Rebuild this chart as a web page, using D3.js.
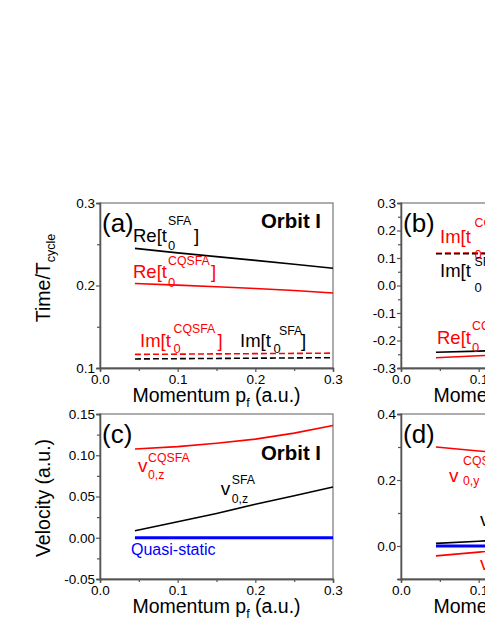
<!DOCTYPE html>
<html>
<head>
<meta charset="utf-8">
<script src="https://cdnjs.cloudflare.com/ajax/libs/d3/7.8.5/d3.min.js"></script>
<style>
body { margin: 0; background: #fff; }
svg { display: block; font-family: "Liberation Sans", Arial, sans-serif; }
</style>
</head>
<body>
<svg id="chart" width="485" height="627"></svg>
<script>
// final momentum grid (a.u.)
const pf = [0.045, 0.1, 0.15, 0.2, 0.25, 0.3];
const xTicks = [0.0, 0.1, 0.2, 0.3];
const xMinor = [0.05, 0.15, 0.25];

// (a) ionization times, orbit I
const reT0SFA_a = [0.245, 0.2395, 0.235, 0.2305, 0.2258, 0.221];
const reT0CQSFA_a = [0.2025, 0.2005, 0.1985, 0.1963, 0.194, 0.191];
const imT0CQSFA_a = [0.1165, 0.1168, 0.1171, 0.1174, 0.1177, 0.118];
const imT0SFA_a = [0.111, 0.1113, 0.1116, 0.1119, 0.1122, 0.1125];

// (b) ionization times, second panel (cropped)
const reT0SFA_b = [-0.243, -0.2385, -0.234, -0.23, -0.226, -0.222];
const reT0CQSFA_b = [-0.2625, -0.2555, -0.249, -0.243, -0.237, -0.231];
const imT0CQSFA_b = [0.1175, 0.1178, 0.1181, 0.1184, 0.1187, 0.119];
const imT0SFA_b = [0.1155, 0.1158, 0.1161, 0.1164, 0.1167, 0.117];

// (c) initial velocity v0,z, orbit I
const v0zCQSFA = [0.1076, 0.1105, 0.1145, 0.1195, 0.1268, 0.136];
const v0zSFA = [0.0085, 0.0195, 0.0295, 0.0405, 0.051, 0.0615];
const v0zQS = [0, 0, 0, 0, 0, 0];

// (d) initial velocity v0,y (cropped)
const v0yCQSFA = [0.3, 0.288, 0.277, 0.266, 0.255, 0.244];
const v0ySFA = [0.008, 0.0145, 0.02, 0.0255, 0.031, 0.0365];
const v0yQS = [0, 0, 0, 0, 0, 0];
const v0yCQSFA2 = [-0.03, -0.0185, -0.008, 0.002, 0.011, 0.02];

const RED = "#ff0000", BLACK = "#000", BLUE = "#0000ff";
const W = 233, H = 165;

const panels = [
  {tag: "(a)", left: 100, top: 203, yDomain: [0.1, 0.3],
   yTicks: [0.1, 0.2, 0.3], yMinor: [0.15, 0.25], digits: 1,
   series: [
     {v: imT0CQSFA_a, c: RED, dash: "6,3"},
     {v: imT0SFA_a, c: BLACK, dash: "6,3"},
     {v: reT0SFA_a, c: BLACK},
     {v: reT0CQSFA_a, c: RED}]},
  {tag: "(b)", left: 401, top: 203, yDomain: [-0.3, 0.3],
   yTicks: [-0.3, -0.2, -0.1, 0, 0.1, 0.2, 0.3], yMinor: [-0.25, -0.15, -0.05, 0.05, 0.15, 0.25], digits: 1,
   series: [
     {v: imT0CQSFA_b, c: RED, dash: "6,3"},
     {v: imT0SFA_b, c: BLACK, dash: "6,3"},
     {v: reT0SFA_b, c: BLACK},
     {v: reT0CQSFA_b, c: RED}]},
  {tag: "(c)", left: 100, top: 414, yDomain: [-0.05, 0.15],
   yTicks: [-0.05, 0, 0.05, 0.1, 0.15], yMinor: [-0.025, 0.025, 0.075, 0.125], digits: 2,
   series: [
     {v: v0zQS, c: BLUE, w: 3},
     {v: v0zSFA, c: BLACK},
     {v: v0zCQSFA, c: RED}]},
  {tag: "(d)", left: 401, top: 414, yDomain: [-0.1, 0.4],
   yTicks: [0, 0.2, 0.4], yMinor: [-0.1, 0.1, 0.3], digits: 1,
   series: [
     {v: v0yQS, c: BLUE, w: 3},
     {v: v0ySFA, c: BLACK},
     {v: v0yCQSFA, c: RED},
     {v: v0yCQSFA2, c: RED}]}
];

const svg = d3.select("#chart");
svg.append("rect").attr("width", 485).attr("height", 627).attr("fill", "#fff");

function styleAxis(sel) {
  sel.select(".domain").attr("stroke", "#555").attr("stroke-width", 1.3);
  sel.selectAll(".tick line").attr("stroke", "#555").attr("stroke-width", 1.2);
  sel.selectAll(".tick text").attr("fill", "#000").style("font-size", "13.5px");
}

panels.forEach(p => {
  const g = svg.append("g").attr("transform", "translate(" + p.left + "," + p.top + ")");
  const x = d3.scaleLinear().domain([0, 0.3]).range([0, W]);
  const y = d3.scaleLinear().domain(p.yDomain).range([H, 0]);

  g.append("rect").attr("width", W).attr("height", H)
    .attr("fill", "none").attr("stroke", "#777").attr("stroke-width", 1.2);

  g.append("g").attr("transform", "translate(0," + H + ")")
    .call(d3.axisBottom(x).tickValues(xMinor).tickSize(3).tickFormat(""))
    .call(styleAxis);
  g.append("g").attr("transform", "translate(0," + H + ")")
    .call(d3.axisBottom(x).tickValues(xTicks).tickSize(4).tickPadding(2).tickFormat(d => d.toFixed(1)))
    .call(styleAxis);

  g.append("g")
    .call(d3.axisLeft(y).tickValues(p.yMinor).tickSize(3).tickFormat(""))
    .call(styleAxis);
  g.append("g")
    .call(d3.axisLeft(y).tickValues(p.yTicks).tickSize(4).tickPadding(1).tickFormat(d => d.toFixed(p.digits)))
    .call(styleAxis);

  const line = d3.line().x((d, i) => x(pf[i])).y(d => y(d));
  p.series.forEach(s => {
    g.append("path")
      .datum(s.v)
      .attr("d", line)
      .attr("fill", "none")
      .attr("stroke", s.c)
      .attr("stroke-width", s.w || 1.6)
      .attr("stroke-dasharray", s.dash || null);
  });

  // panel tag
  g.append("text").attr("x", 2).attr("y", p.tag === "(a)" || p.tag === "(b)" ? 28.5 : 28.5)
    .style("font-size", "26px").text(p.tag);

  // x label
  const xl = g.append("text").attr("x", W / 2).attr("y", H + 34)
    .attr("text-anchor", "middle").style("font-size", "19.5px");
  xl.append("tspan").text("Momentum p");
  xl.append("tspan").attr("dy", 5).style("font-size", "12.5px").text("f");
  xl.append("tspan").attr("dy", -5).text(" (a.u.)");
});

// y axis labels (left column only)
function yLabel(cy, main, sub, rest) {
  const t = svg.append("text")
    .attr("transform", "translate(50," + cy + ") rotate(-90)")
    .attr("text-anchor", "middle").style("font-size", "19.5px");
  t.append("tspan").text(main);
  if (sub) {
    t.append("tspan").attr("dy", 5).style("font-size", "12.5px").text(sub);
    if (rest) t.append("tspan").attr("dy", -5).text(rest);
  }
}
yLabel(278, "Time/T", "cycle");
yLabel(498, "Velocity (a.u.)");

// label pieces: [text, x, y, size, bold]
function label(color, pieces) {
  pieces.forEach(pc => {
    svg.append("text").attr("x", pc[1]).attr("y", pc[2])
      .attr("fill", color)
      .style("font-size", pc[3] + "px")
      .style("font-weight", pc[4] ? "bold" : "normal")
      .text(pc[0]);
  });
}

// (a)
label(BLACK, [["Re[t", 133, 241.7, 18.5], ["0", 168, 250, 13], ["SFA", 168, 225, 12.3], ["]", 194, 241.7, 18.5]]);
label(RED, [["Re[t", 133, 278.3, 18.5], ["0", 168, 286.5, 13], ["CQSFA", 168, 265, 12.3], ["]", 211, 278.3, 18.5]]);
label(RED, [["Im[t", 140, 346.7, 18.5], ["0", 173.5, 353, 13], ["CQSFA", 173.5, 332.5, 12.3], ["]", 217.5, 346.7, 18.5]]);
label(BLACK, [["Im[t", 240, 346.7, 18.5], ["0", 273.5, 353, 13], ["SFA", 279, 335, 12.3], ["]", 301, 346.7, 18.5]]);
label(BLACK, [["Orbit I", 261, 228.3, 20.4, true]]);

// (b)
label(RED, [["Im[t", 440, 243.3, 18.5], ["0", 474.5, 259, 13], ["CQSFA", 474.5, 227, 12.3]]);
label(BLACK, [["Im[t", 440, 277.3, 18.5], ["0", 474.5, 292, 13], ["SFA", 474.5, 266, 12.3]]);
label(RED, [["Re[t", 437, 344, 18.5], ["0", 472, 352, 13], ["CQSFA", 472, 330, 12.3]]);

// (c)
label(RED, [["v", 138, 471.7, 19], ["0,z", 148, 479.3, 12.3], ["CQSFA", 148, 461.7, 12.3]]);
label(BLACK, [["v", 220.7, 495, 19], ["0,z", 231.7, 502.7, 12.3], ["SFA", 231.7, 484, 12.3]]);
label(BLUE, [["Quasi-static", 131, 555, 16]]);
label(BLACK, [["Orbit I", 261, 460, 20.4, true]]);

// (d)
label(RED, [["v", 449, 481.7, 19], ["0,y", 463, 485, 12.3], ["CQSFA", 463, 465, 12.3]]);
label(BLACK, [["v", 480, 526, 19], ["0,y", 491, 533, 12.3], ["SFA", 491, 515, 12.3]]);
label(RED, [["v", 480, 570, 19], ["0,y", 491, 577, 12.3], ["CQSFA", 491, 559, 12.3]]);
</script>
</body>
</html>
